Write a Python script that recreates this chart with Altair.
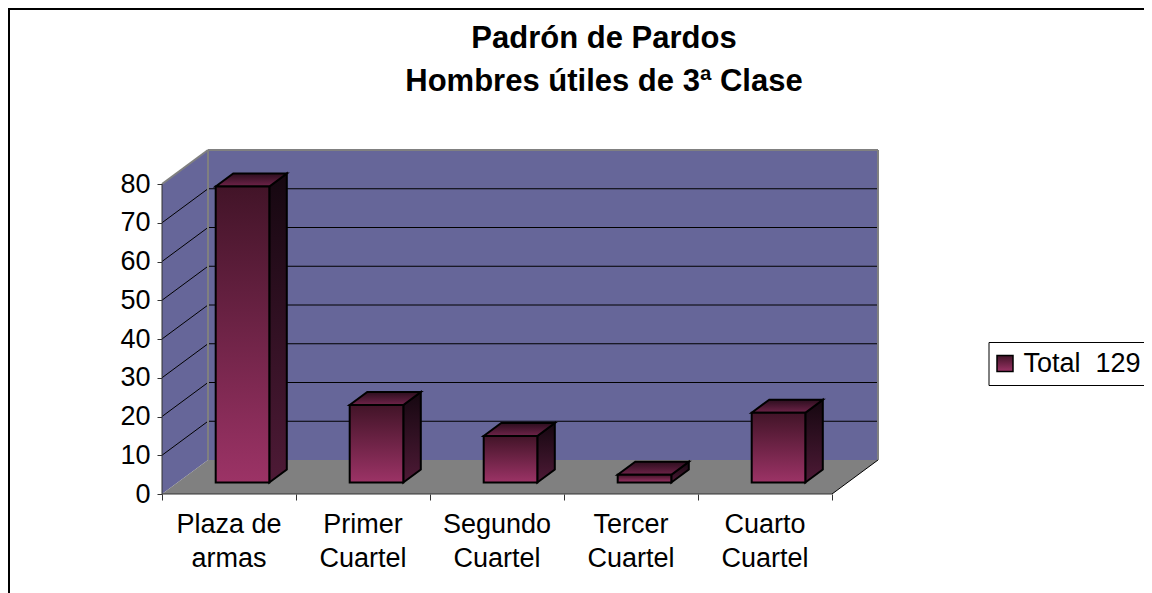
import altair as alt
import pandas as pd

CATEGORIES = ["Plaza de\narmas", "Primer\nCuartel", "Segundo\nCuartel", "Tercer\nCuartel", "Cuarto\nCuartel"]
VALUES = [76.4, 20, 12, 2, 18]
Y_TICKS = [0, 10, 20, 30, 40, 50, 60, 70, 80]
X_TICKS = [0, 1, 2, 3, 4, 5]
TITLE_LINES = ["Padrón de Pardos", "Hombres útiles de 3ª Clase"]
SERIES = "Total\u00a0\u00a0129"

FONT = "Liberation Sans"
W, H = 716, 344
PX_X, PX_Y = 134.0, 3.875
DX, DY = 46 / PX_X, 34 / PX_Y           # wall depth in data units
FX, FY = 13.5 / PX_X, 11.5 / PX_Y       # bar front plane offset
BX, BY = 17.5 / PX_X, 13 / PX_Y         # bar depth
HALF = 0.2
YMAX = 80 + DY
XMAX = W / PX_X

xs = alt.Scale(domain=[0, XMAX], nice=False, zero=False)
ys = alt.Scale(domain=[0, YMAX], nice=False, zero=False)
AX = alt.Axis(values=X_TICKS, labels=False, domain=False, grid=False, tickColor="#333333",
              tickSize=6, tickWidth=1, title=None)
AY = alt.Axis(values=Y_TICKS, domain=False, grid=False, tickColor="#333333", tickSize=5, tickWidth=1,
              labelFont=FONT, labelFontSize=27, labelColor="#000000", labelPadding=7, title=None)
X = lambda f="x": alt.X(f"{f}:Q", scale=xs, axis=AX)
Y = lambda f="y": alt.Y(f"{f}:Q", scale=ys, axis=AY)


def grad(top, bottom):
    return alt.Gradient(gradient="linear", x1=0, x2=0, y1=0, y2=1,
                        stops=[alt.GradientStop(color=top, offset=0),
                               alt.GradientStop(color=bottom, offset=1)])


one = pd.DataFrame({"a": [0]})

# walls and floor
back = alt.Chart(pd.DataFrame({"x": [DX], "x2": [XMAX], "y": [DY], "y2": [YMAX]})).mark_rect(color="#666699").encode(
    x=X(), x2="x2:Q", y=Y(), y2="y2:Q")
side = alt.Chart(pd.DataFrame({"x": [0, DX], "y": [0, DY], "y2": [80, YMAX]})).mark_area(color="#666699").encode(
    x=X(), y=Y(), y2="y2:Q")
floor = alt.Chart(pd.DataFrame({"y": [0, DY], "x": [0, DX], "x2": [5, XMAX]})).mark_area(color="#808080", orient="horizontal").encode(
    y=Y(), x=X(), x2="x2:Q")

# gridlines
g = [v for v in Y_TICKS if v > 0 and v < 80]
grid_back = alt.Chart(pd.DataFrame({"y": [v + DY for v in g], "x": DX, "x2": XMAX})).mark_rule(color="#000000", strokeWidth=1).encode(
    x=X(), x2="x2:Q", y=Y())
grid_side = alt.Chart(pd.DataFrame({"x": 0.0, "x2": DX, "y": g, "y2": [v + DY for v in g]})).mark_rule(color="#000000", strokeWidth=1).encode(
    x=X(), x2="x2:Q", y=Y(), y2="y2:Q")

# wall edges
edges_gray = alt.Chart(pd.DataFrame({
    "x": [DX, DX, XMAX, 0.0], "x2": [DX, XMAX, XMAX, DX],
    "y": [DY, YMAX, DY, 80.0], "y2": [YMAX, YMAX, YMAX, YMAX]})).mark_rule(color="#808080", strokeWidth=2).encode(
    x=X(), x2="x2:Q", y=Y(), y2="y2:Q")
edges_dark = alt.Chart(pd.DataFrame({"x": [5.0], "x2": [XMAX], "y": [0.0], "y2": [DY]})).mark_rule(color="#000000", strokeWidth=1).encode(
    x=X(), x2="x2:Q", y=Y(), y2="y2:Q")

# axis lines
axis_y_line = alt.Chart(pd.DataFrame({"x": [0.0], "y": [0.0], "y2": [80.0]})).mark_rule(color="#333333", strokeWidth=1).encode(
    x=X(), y=Y(), y2="y2:Q")
axis_x_line = alt.Chart(pd.DataFrame({"x": [0.0], "x2": [5.0], "y": [0.0]})).mark_rule(color="#333333", strokeWidth=1).encode(
    x=X(), x2="x2:Q", y=Y())

# bars
bars = pd.DataFrame({"cat": CATEGORIES, "v": VALUES, "i": range(len(VALUES))})
bars["c"] = bars["i"] + 0.5 + FX
bars["x"] = bars["c"] - HALF
bars["x2"] = bars["c"] + HALF
bars["y"] = FY
bars["y2"] = FY + bars["v"]
bars["serie"] = SERIES

side_rows, top_rows = [], []
for _, b in bars.iterrows():
    side_rows += [{"i": b.i, "x": b.x2, "y": b.y, "y2": b.y2},
                  {"i": b.i, "x": b.x2 + BX, "y": b.y + BY, "y2": b.y2 + BY}]
    top_rows += [{"i": b.i, "y": b.y2, "x": b.x, "x2": b.x2},
                 {"i": b.i, "y": b.y2 + BY, "x": b.x + BX, "x2": b.x2 + BX}]

bar_side = alt.Chart(pd.DataFrame(side_rows)).mark_area(
    fill=grad("#150710", "#4e1a36"), stroke="#000000", strokeWidth=2).encode(
    x=X(), y=Y(), y2="y2:Q", detail="i:N")
bar_top = alt.Chart(pd.DataFrame(top_rows)).mark_area(
    orient="horizontal", fill=grad("#2c0e1e", "#6f2349"), stroke="#000000", strokeWidth=2).encode(
    y=Y(), x=X(), x2="x2:Q", detail="i:N")
bar_front = alt.Chart(bars).mark_bar(fill=grad("#421428", "#9c3366"), strokeWidth=2).encode(
    x=X(), x2="x2:Q", y=Y(), y2="y2:Q",
    stroke=alt.Stroke("serie:N", scale=alt.Scale(range=["#000000"]), title=None,
                      legend=alt.Legend(orient="none", legendX=988.5 - 162, legendY=342 - 150,
                                        title=None, strokeColor="#000000", fillColor="#ffffff",
                                        padding=8, symbolType="square", symbolSize=256,
                                        symbolOffset=-5, symbolStrokeWidth=1.5, labelFont=FONT,
                                        labelFontSize=27, labelColor="#000000", labelOffset=5)))

# category labels
labels = alt.Chart(pd.DataFrame({"t": CATEGORIES, "x": [i + 0.5 for i in range(5)]})).mark_text(
    font=FONT, fontSize=27, color="#000000", lineBreak="\n", lineHeight=34, align="center", baseline="alphabetic").encode(
    x=alt.X("x:Q", scale=xs, axis=AX), y=alt.value(532.7 - 150), text="t:N")

# title
title = alt.Chart(one).mark_text(
    text=TITLE_LINES, font=FONT, fontSize=31, fontWeight="bold", color="#000000", lineHeight=43,
    align="center", baseline="alphabetic").encode(x=alt.value(604 - 162), y=alt.value(48 - 150))

# chart frame
frame_l = alt.Chart(one).mark_rule(color="#000000", strokeWidth=2).encode(
    x=alt.value(-153), y=alt.value(-142), y2=alt.value(443))
frame_t = alt.Chart(one).mark_rule(color="#000000", strokeWidth=2).encode(
    x=alt.value(-154), x2=alt.value(990), y=alt.value(-141))

chart = alt.layer(
    back, side, floor, grid_back, grid_side, edges_gray, edges_dark,
    axis_y_line, axis_x_line,
    bar_side, bar_top, bar_front, labels, title, frame_l, frame_t,
).properties(
    width=W, height=H,
    autosize=alt.AutoSizeParams(type="none"),
    padding={"left": 154, "top": 142, "right": 266, "bottom": 99},
    background="#ffffff",
).configure_view(stroke=None)

chart.save("out.html", embed_options={"renderer": "svg", "actions": False})
